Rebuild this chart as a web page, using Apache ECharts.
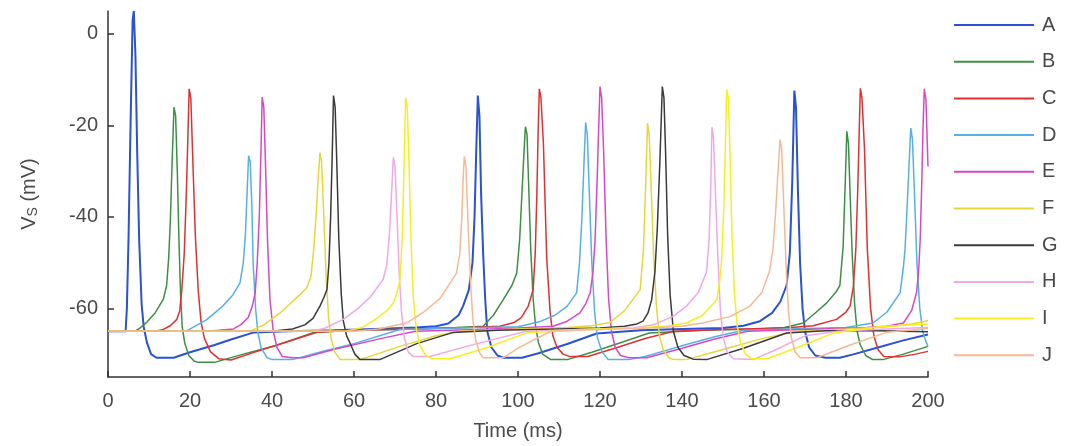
<!DOCTYPE html>
<html>
<head>
<meta charset="utf-8">
<script src="https://cdn.jsdelivr.net/npm/echarts@6/dist/echarts.min.js"></script>
<style>
  html, body { margin: 0; padding: 0; background: #fff; }
  #myChart { width: 1065px; height: 446px; }
</style>
</head>
<body>
<div id="myChart"></div>
<script>
// 神经元名称 + 刻度
const neuronNames = ['A', 'B', 'C', 'D', 'E', 'F', 'G', 'H', 'I', 'J']
const yTicks = [0, -20, -40, -60]

// 每个神经元的膜电位 [时间 ms, 电压 mV]
const traceA = [[0,-65],[4.3,-65],[4.6,-60],[5,-45],[5.5,-20],[6,3],[6.3,5],[6.7,-5],[7.1,-25],[7.6,-45],[8.2,-59],[8.7,-64],[9.5,-67.5],[10.5,-70],[11.8,-70.8],[16,-70.8],[20,-69.6],[26,-68],[30,-66.8],[35.4,-65.3],[44,-65],[55,-64.8],[65,-64.5],[75,-64.2],[80,-63.9],[83,-63.3],[85.5,-61.5],[86.6,-59.5],[88,-56],[88.9,-50],[89.4,-40],[89.8,-26],[90.2,-13.5],[90.6,-18],[91,-35],[91.5,-48],[92,-58],[92.5,-65],[93.5,-68.5],[95,-70.3],[96.4,-70.8],[101,-70.8],[105,-69.8],[112,-67.8],[119.2,-65.5],[130,-64.8],[140,-64.5],[150,-64.3],[155,-63.8],[159,-62.8],[162,-61],[164,-58.5],[165.5,-55],[166.3,-48],[166.9,-32],[167.4,-12.4],[167.8,-16],[168.3,-35],[168.8,-50],[169.4,-60],[170,-65],[171,-68.5],[172.5,-70.3],[175,-70.8],[178.5,-70.8],[182,-70],[188,-68.5],[194,-67],[200,-65.7]]
const traceB = [[0,-65],[6.6,-65],[7.5,-64.5],[9.5,-63],[11.5,-61],[13.5,-58],[14.3,-55],[14.8,-49],[15.2,-41],[15.6,-29],[16.1,-16],[16.5,-18],[16.9,-30],[17.3,-45],[17.7,-57],[18.1,-64],[18.7,-67.5],[19.7,-70.3],[21,-71.5],[22,-71.8],[26,-71.8],[33,-70],[40.3,-68.3],[50,-65.3],[60,-64.8],[75,-64.5],[85,-64.2],[91.5,-63.9],[94,-61.5],[96.4,-58.1],[98.5,-55],[99.7,-52.3],[100.4,-45],[100.9,-36],[101.4,-27],[101.8,-20.3],[102.2,-22],[102.6,-33],[103.1,-47],[103.7,-58],[104.3,-64],[105,-67.5],[106,-70],[108,-71.2],[112,-71.2],[118,-69.6],[125,-67.5],[132,-65.4],[145,-64.8],[158,-64.5],[165,-64.2],[169.6,-63.2],[172.5,-61],[175.3,-58.8],[177.5,-56.5],[178.5,-55],[179.3,-46.5],[179.8,-33],[180.2,-21.3],[180.6,-24],[181,-35],[181.5,-48],[182.1,-59],[182.7,-65],[183.5,-68],[184.8,-70.3],[186.5,-71.2],[189,-71.2],[194,-70],[200,-68.3]]
const traceC = [[0,-65],[11.5,-65],[13.5,-64.6],[15.2,-63.8],[16.8,-62.4],[17.5,-60.5],[18,-56],[18.6,-48],[19.1,-35],[19.5,-22],[19.8,-12],[20.2,-14],[20.7,-28],[21.3,-44],[22,-56],[22.7,-63],[23.5,-66.5],[25,-69.5],[27,-71],[30,-71.3],[36,-69.5],[43,-67.5],[51,-65.2],[60,-64.8],[75,-64.5],[88,-64.2],[95.6,-63.9],[99,-63.1],[100.8,-62],[102.5,-59.5],[103.7,-55.9],[104.2,-48],[104.6,-35],[104.9,-22],[105.2,-12],[105.6,-14],[106.2,-24],[107,-49],[107.8,-60.5],[108.5,-66],[109.5,-68.5],[111,-70],[112.5,-70.5],[117,-70.5],[124,-68.6],[131,-66.6],[138,-65],[150,-64.6],[165,-64.3],[172,-63.8],[177.7,-62.4],[180,-60.8],[181,-59.5],[181.8,-55.2],[182.4,-47],[182.9,-33],[183.2,-22],[183.5,-11.9],[183.9,-14],[184.5,-25],[185.2,-47],[186,-60],[186.8,-66],[187.8,-69],[189.2,-70.5],[193,-70.6],[197,-70],[200,-69.4]]
const traceD = [[0,-65],[19,-65],[20.4,-64.3],[24,-62.5],[28,-59.5],[30.5,-57],[32.2,-54.4],[33,-50],[33.5,-44],[34,-33],[34.3,-26.6],[34.7,-28],[35.1,-38],[35.4,-50],[36,-60],[36.5,-65],[37.3,-68.5],[38.8,-70.8],[40,-71.2],[45,-71.2],[52,-69.5],[60,-67.7],[71.2,-64.6],[85,-64.3],[95,-64.1],[100,-64],[105,-63],[109,-61.5],[112,-59.5],[114.3,-56.6],[115,-50],[115.6,-40],[116.1,-28],[116.5,-19.4],[116.9,-22],[117.4,-35],[118,-50],[118.7,-61],[119.4,-66.5],[120.5,-69.5],[122,-71.2],[127,-71.2],[131,-70.5],[139.5,-68.3],[148,-66.2],[155,-64.8],[170,-64.4],[180,-64.2],[186.6,-63.2],[190,-60.8],[193.2,-56.6],[194,-51],[194.4,-47],[194.9,-38],[195.4,-28],[195.8,-20.6],[196.2,-23],[196.7,-35],[197.3,-50],[198,-60],[198.7,-65],[199.4,-67],[200,-68.3]]
const traceE = [[0,-65],[24,-65],[27,-64.8],[30.6,-64.5],[32.5,-63.5],[34.2,-62],[35.2,-59.5],[35.9,-56.6],[36.4,-50],[36.9,-40],[37.3,-26],[37.6,-13.8],[38,-16],[38.4,-28],[38.9,-45],[39.5,-58],[40.3,-65],[41.2,-68.5],[42.5,-70.5],[45,-70.8],[47.6,-70.8],[55,-69],[67,-66.5],[75,-65],[90,-64.6],[100,-64.3],[108.6,-63.9],[112,-62.8],[115.1,-61],[116.5,-59],[117.6,-56.6],[118.3,-52],[118.8,-45],[119.3,-32],[119.7,-20],[120,-11.5],[120.4,-14],[120.9,-26],[121.5,-45],[122.1,-58],[122.8,-65],[123.7,-68.5],[125,-70.3],[127,-70.8],[131.4,-70.8],[140,-68.7],[148,-66.7],[156,-65],[170,-64.6],[185,-64.2],[190,-63.9],[194,-63.2],[196,-60.5],[197.2,-56.6],[197.7,-52],[198.1,-45],[198.5,-32],[198.8,-20],[199.1,-12],[199.5,-14.5],[200,-29]]
const traceF = [[0,-65],[34.6,-65],[38,-63.6],[42,-61],[46.8,-57],[48.5,-55.5],[49.5,-53],[50.2,-47],[50.8,-39],[51.3,-31],[51.7,-26],[52.1,-28],[52.6,-39],[53.2,-53],[53.8,-62],[54.4,-66.5],[55.3,-69.5],[56.6,-71.2],[61.5,-71.2],[71.2,-68.3],[80,-66],[86,-65],[100,-64.5],[112,-64.2],[118,-63.8],[122.4,-63.1],[126,-60.5],[129.8,-55.9],[130.6,-47.2],[131.1,-34],[131.6,-19.5],[132,-22],[132.5,-34],[133.1,-49],[133.8,-60],[134.5,-66],[135.4,-69],[136.8,-70.8],[138,-71.2],[141,-71.2],[150,-69],[160,-66.5],[168,-65],[180,-64.5],[190,-64],[196,-63.4],[200,-62.7]]
const traceG = [[0,-65],[40,-65],[45,-64.5],[48,-63.6],[50,-62.2],[51.7,-59.5],[52.7,-57.5],[53.4,-55.9],[53.9,-50],[54.3,-40],[54.7,-26],[55,-13.5],[55.4,-16],[55.8,-28],[56.3,-45],[56.9,-57],[57.4,-62.8],[58.2,-66],[59,-67.5],[60.2,-70],[61.5,-71.2],[66.3,-71.2],[75.3,-67.7],[84,-65.3],[95,-64.8],[110,-64.5],[120,-64.3],[126,-63.9],[129,-63.4],[130.5,-62.8],[131.7,-61],[132.6,-58.1],[133.4,-52],[134,-42],[134.6,-28],[135.2,-11.5],[135.6,-14],[136,-26],[136.5,-44],[137.1,-57],[137.9,-65],[139,-68.5],[140.5,-70.3],[142.7,-71.1],[146,-71.2],[155,-68.7],[165.5,-65.4],[175,-64.9],[188,-64.9],[200,-65.1]]
const traceH = [[0,-65],[50,-65],[53,-64.3],[57.4,-62.4],[61,-60],[64,-57.5],[67.1,-53.7],[68,-50.5],[68.7,-43],[69.2,-34],[69.6,-27],[70,-29],[70.5,-40],[71,-52],[71.6,-61],[72.3,-66.5],[73.2,-69.5],[74.4,-70.5],[78.5,-70.5],[90,-67.7],[102,-65],[115,-64.6],[128,-64.3],[133,-63.6],[137.9,-61.7],[141.1,-59.5],[144,-56.5],[146,-52],[146.6,-45],[147,-34],[147.3,-20.4],[147.7,-23],[148.2,-36],[148.8,-50],[149.4,-61],[150.1,-66.5],[151,-69.5],[152.5,-71],[157.4,-71.2],[163,-69],[170,-66],[178,-65],[190,-64.5],[200,-64.2]]
const traceI = [[0,-65],[58,-65],[62,-64.2],[65.2,-62.4],[68,-60.5],[69.6,-58.8],[70.5,-56.5],[71.2,-53.7],[71.7,-46],[72.1,-33],[72.6,-14],[73,-16],[73.4,-28],[73.9,-45],[74.5,-58],[75.2,-64.5],[76,-68],[77.5,-70.3],[79,-71],[83.4,-71],[92,-68.7],[102,-65.4],[115,-64.6],[130,-64.2],[136,-63.9],[141.1,-63.2],[145,-61.5],[148.5,-58.1],[149.2,-54],[149.7,-49],[150.2,-38],[150.6,-24],[150.9,-12.1],[151.3,-14],[151.7,-26],[152.2,-44],[152.8,-57],[153.5,-64],[154.3,-67.5],[155.5,-70],[157,-71],[160.7,-71],[168,-68.6],[176.9,-65.4],[188,-64],[200,-63.4]]
const traceJ = [[0,-65],[60,-65],[66,-64.5],[72.8,-63.2],[77,-60.8],[81,-57.8],[85,-52.3],[85.8,-48],[86.3,-40],[86.6,-32],[86.9,-26.8],[87.3,-29],[87.8,-41],[88.4,-54],[89,-62.5],[89.7,-67],[90.7,-69.8],[91.5,-70.8],[96.4,-70.8],[100,-68.7],[108,-65],[120,-64.6],[132,-64.3],[140,-63.9],[145,-63.2],[151.7,-61.8],[156.6,-59.5],[159.5,-56.5],[161.3,-52],[162.2,-47],[162.9,-38],[163.5,-29],[163.9,-23.1],[164.3,-25],[164.8,-37],[165.4,-51],[166,-61],[166.7,-66.5],[167.6,-69.5],[168.8,-70.8],[172.9,-70.8],[181,-68],[190,-65.2],[200,-64.4]]

const traces = [traceA, traceB, traceC, traceD, traceE, traceF, traceG, traceH, traceI, traceJ]
const lineColors = ['#2a52d2', '#3d8f45', '#e03030', '#55b0e8', '#d648c8', '#e6d63a', '#3a3a3a', '#f0a8e8', '#f5ef22', '#f5b894']

const textColor = '#4a4a4a'
const fontFamily = '"Liberation Sans", Arial, sans-serif'

const myChart = echarts.init(document.getElementById('myChart'))
myChart.setOption({
  animation: false,
  backgroundColor: '#fff',
  textStyle: { fontFamily: fontFamily },
  grid: { left: 108, right: 137, top: 11, bottom: 69 },
  legend: {
    orient: 'vertical',
    left: 954,
    top: 15,
    padding: 0,
    icon: 'rect', // 只画一条线，不要圆点
    itemWidth: 80,
    itemHeight: 2,
    itemGap: 16.7,
    textStyle: { fontSize: 20, lineHeight: 20, color: textColor, fontFamily: fontFamily, padding: [0, 0, 0, 3] },
    data: neuronNames,
  },
  xAxis: {
    type: 'value',
    min: 0,
    max: 200,
    interval: 20,
    name: 'Time (ms)',
    nameLocation: 'middle',
    nameGap: 44,
    nameTextStyle: { fontSize: 20, color: textColor },
    axisLine: { onZero: false, lineStyle: { color: '#333', width: 1.5 } },
    axisTick: { inside: true, length: 6, lineStyle: { color: '#333', width: 1.5 } },
    axisLabel: { fontSize: 20, color: textColor, margin: 14 },
    splitLine: { show: false },
  },
  yAxis: {
    type: 'value',
    min: -75,
    max: 5,
    name: '{v|V}{s|S} (mV)',
    nameLocation: 'middle',
    nameGap: 68,
    nameRotate: 90,
    nameTextStyle: {
      fontSize: 20,
      color: textColor,
      rich: {
        v: { fontSize: 20, color: textColor },
        s: { fontSize: 14, color: textColor, verticalAlign: 'bottom', padding: [8, 0, 0, 0] },
      },
    },
    axisLine: { lineStyle: { color: '#333', width: 1.5 } },
    axisTick: { inside: true, length: 6, customValues: yTicks, lineStyle: { color: '#333', width: 1.5 } },
    axisLabel: { fontSize: 20, color: textColor, margin: 10, customValues: yTicks },
    splitLine: { show: false },
  },
  series: neuronNames.map((name, i) => ({
    name: name,
    type: 'line',
    data: traces[i],
    symbol: 'none',
    color: lineColors[i],
    lineStyle: { width: i === 0 ? 2 : 1.5, color: lineColors[i] },
  })),
})
</script>
</body>
</html>
